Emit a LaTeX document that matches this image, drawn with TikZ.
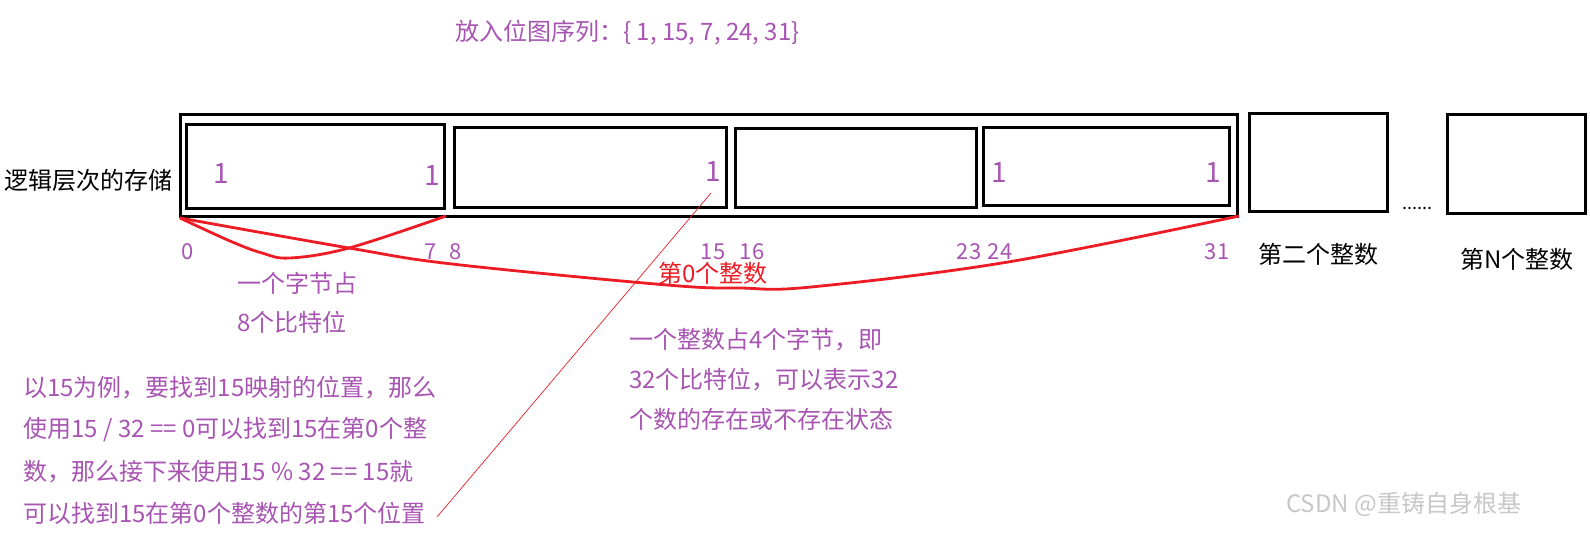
\documentclass[tikz,border=0pt]{standalone}
\usepackage{fontspec}
\setmainfont{Noto Sans CJK SC}
\definecolor{pur}{RGB}{168,84,178}
\definecolor{myred}{RGB}{237,28,36}
\begin{document}
\begin{tikzpicture}[x=1pt,y=-1pt,
  box/.style={draw=black,line width=3pt},
  pt/.style={inner sep=0pt,text=pur,font=\fontsize{24}{24}\selectfont},
  one/.style={inner sep=0pt,text=pur,font=\fontsize{28}{28}\selectfont},
  num/.style={inner sep=0pt,text=pur,font=\fontsize{22}{22}\selectfont},
  blk/.style={inner sep=0pt,text=black,font=\fontsize{24}{24}\selectfont},
  brace/.style={draw=myred,line width=2.8pt}]
\useasboundingbox (0,0) rectangle (1590,533);
% boxes
\draw[box] (180,114) rectangle (1237,216);
\draw[box] (186,124) rectangle (444,208);
\draw[box] (454,127) rectangle (726,207);
\draw[box] (735,128) rectangle (976,207);
\draw[box] (983,127) rectangle (1229,205);
\draw[box] (1249,113) rectangle (1387,211);
\draw[box] (1447,114) rectangle (1585,213);
% texts
\node[pt,anchor=west] (title) at (455,33) {放入位图序列：\{ 1, 15, 7, 24, 31\}};
\node[blk,anchor=west] (lbl) at (4,180) {逻辑层次的存储};
\node[one] (b0) at (221,174) {1};
\node[one] (b7) at (432,176) {1};
\node[one] (b15) at (713,172) {1};
\node[one] (b24) at (999,173) {1};
\node[one] (b31) at (1213,173) {1};
\node[num] (n0) at (188,252) {0};
\node[num] (n7) at (431,252) {7};
\node[num] (n8) at (456,252) {8};
\node[num] (n15) at (713,252) {15};
\node[num] (n16) at (752,252) {16};
\node[num] (n23) at (969,252) {23};
\node[num] (n24) at (1000,252) {24};
\node[num] (n31) at (1217,252) {31};
\node[blk] (second) at (1318,254) {第二个整数};
\node[blk] (nth) at (1517,259) {第N个整数};
\node[inner sep=0pt,font=\fontsize{18}{18}\selectfont] (dots) at (1417,208) {......};
\node[inner sep=0pt,text=myred,font=\fontsize{24}{24}\selectfont] (int0) at (713,273) {第0个整数};
\node[pt,anchor=west] (byte1) at (237,283) {一个字节占};
\node[pt,anchor=west] (byte2) at (237,322) {8个比特位};
\node[pt,anchor=west] (int1) at (629,340) {一个整数占4个字节，即};
\node[pt,anchor=west] (int2) at (629,380) {32个比特位，可以表示32};
\node[pt,anchor=west] (int3) at (629,419) {个数的存在或不存在状态};
\node[pt,anchor=west] (ex1) at (23,388) {以15为例，要找到15映射的位置，那么};
\node[pt,anchor=west] (ex2) at (23,430) {使用15 / 32 == 0可以找到15在第0个整};
\node[pt,anchor=west] (ex3) at (23,472) {数，那么接下来使用15 \% 32 == 15就};
\node[pt,anchor=west] (ex4) at (23,513) {可以找到15在第0个整数的第15个位置};
\node[inner sep=0pt,anchor=west,text=black!22,font=\fontsize{24}{24}\selectfont] (wm) at (1286,504) {CSDN @重铸自身根基};
% red braces
\draw[brace] plot[smooth,tension=0.6] coordinates {(180,218) (230,241) (262,253) (290,258) (349,248) (446,216)};
\draw[brace] plot[smooth,tension=0.6] coordinates {(180,218) (349,248) (452,264) (667,285) (740,288) (811,287) (1008,262) (1239,216)};
% thin pointer
\coordinate (pstart) at (711,193);
\coordinate (pend) at (437,517);
\draw[myred,line width=0.7pt] (pstart) -- (pend);
\end{tikzpicture}
\end{document}
